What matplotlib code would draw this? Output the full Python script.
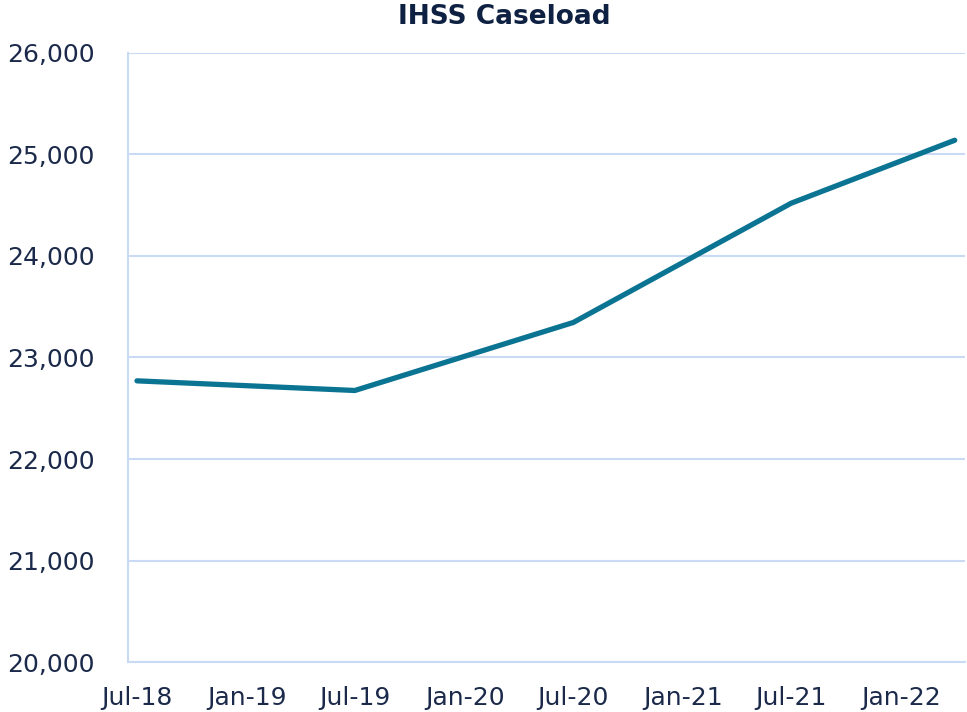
import matplotlib
matplotlib.use("Agg")
import matplotlib.pyplot as plt
import pandas as pd
from matplotlib.ticker import FuncFormatter

# caseload readings
dates = ["2018-07-01", "2019-07-01", "2020-07-01", "2021-07-01", "2022-04-01"]
caseload = [22770, 22675, 23345, 24520, 25140]
tick_dates = ["2018-07-01", "2019-01-01", "2019-07-01", "2020-01-01",
              "2020-07-01", "2021-01-01", "2021-07-01", "2022-01-01"]
tick_labels = ["Jul-18", "Jan-19", "Jul-19", "Jan-20", "Jul-20", "Jan-21", "Jul-21", "Jan-22"]
y_ticks = [20000, 21000, 22000, 23000, 24000, 25000, 26000]

navy = "#1b2a4a"
grid_blue = "#cad9f4"

fig = plt.figure(figsize=(9.67, 7.12), dpi=100)
ax = fig.add_axes([0.1324, 0.0702, 0.866, 0.8554])

ax.plot(pd.to_datetime(dates), caseload, color="#0a7492", lw=3.8,
        solid_capstyle="round", solid_joinstyle="round", zorder=3)

ax.set_xlim(pd.Timestamp("2018-06-16"), pd.Timestamp("2022-04-19"))
ax.set_ylim(20000, 26000)
ax.set_yticks(y_ticks)
ax.yaxis.set_major_formatter(FuncFormatter(lambda v, p: f"{int(v):,}"))
ax.set_xticks(pd.to_datetime(tick_dates))
ax.set_xticklabels(tick_labels)

ax.grid(axis="y", color=grid_blue, lw=1.5)
ax.set_axisbelow(True)
for s in ["top", "right"]:
    ax.spines[s].set_visible(False)
for s in ["left", "bottom"]:
    ax.spines[s].set_color(grid_blue)
    ax.spines[s].set_linewidth(1.5)

ax.tick_params(axis="both", length=0, labelsize=18, labelcolor=navy)
ax.tick_params(axis="y", pad=24)
ax.tick_params(axis="x", pad=17)

fig.text(504 / 967, 1 - 17 / 712, "IHSS Caseload", ha="center", va="center",
         fontsize=19, fontweight="bold", color="#0f2142")

fig.savefig("out.png", dpi=100)
